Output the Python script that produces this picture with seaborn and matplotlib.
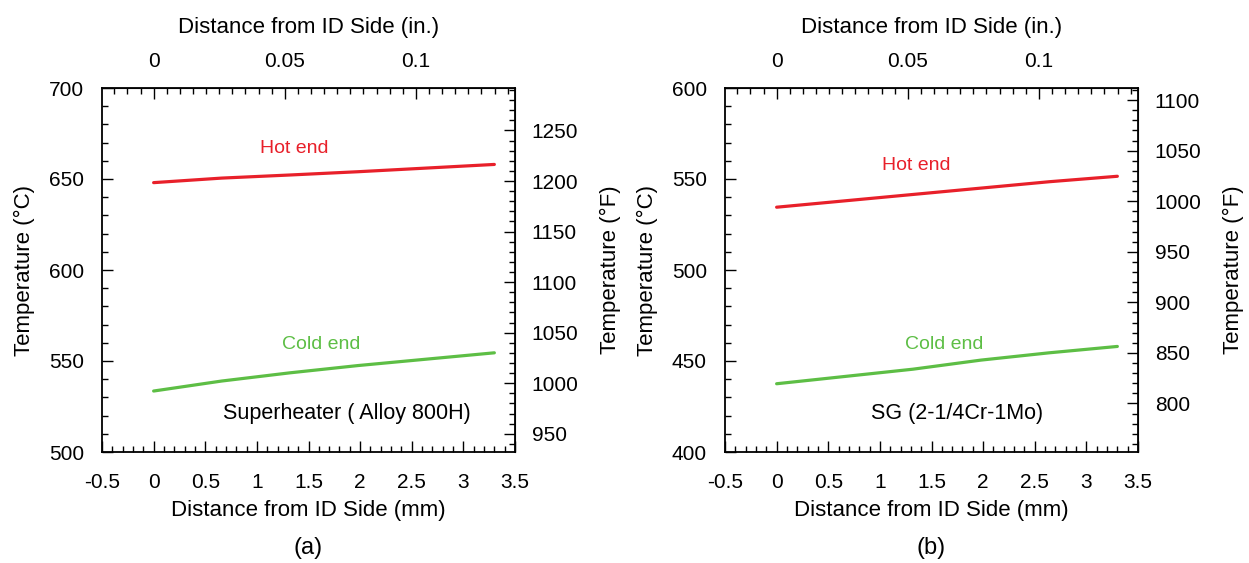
import numpy as np
import pandas as pd
import matplotlib
matplotlib.use("Agg")
import matplotlib.pyplot as plt
import seaborn as sns
from matplotlib.ticker import MultipleLocator, FixedLocator

# Data
distance_mm = [0.0, 0.66, 1.32, 1.98, 2.64, 3.3]

sh_hot = [648.0, 650.5, 652.2, 654.0, 656.0, 658.0]
sh_cold = [533.5, 539.0, 543.5, 547.5, 551.0, 554.5]

sg_hot = [534.5, 538.0, 541.5, 545.0, 548.5, 551.5]
sg_cold = [437.5, 441.5, 445.5, 450.5, 454.5, 458.0]

panel_titles = ["Superheater ( Alloy 800H)", "SG (2-1/4Cr-1Mo)"]
panel_tags = ["(a)", "(b)"]
c_limits = [(500, 700), (400, 600)]
in_ticks = [0, 0.05, 0.1]
in_ticklabels = ["0", "0.05", "0.1"]
mm_ticks = [-0.5, 0, 0.5, 1, 1.5, 2, 2.5, 3, 3.5]
mm_ticklabels = ["-0.5", "0", "0.5", "1", "1.5", "2", "2.5", "3", "3.5"]

# label positions (data coords)
hot_label_pos = [(1.36, 667), (1.35, 557.5)]
cold_label_pos = [(1.62, 559), (1.62, 459)]
title_pos = [(1.87, 521), (1.75, 421)]

HOT = "#e8202a"
COLD = "#5dbe45"

sns.set_style("ticks")
plt.rcParams["font.family"] = ["Liberation Sans", "DejaVu Sans"]
plt.rcParams.update({"text.color": "black", "axes.labelcolor": "black",
                     "xtick.color": "black", "ytick.color": "black"})
TICK_FS = 15
LABEL_FS = 16

fig = plt.figure(figsize=(12.49, 5.63), dpi=100)
W, H = 1249, 563
boxes = [(102, 88, 515, 452), (725, 88, 1138, 452)]

frames = [
    pd.DataFrame({"mm": distance_mm, "hot": sh_hot, "cold": sh_cold}),
    pd.DataFrame({"mm": distance_mm, "hot": sg_hot, "cold": sg_cold}),
]

for i, df in enumerate(frames):
    x0, y0, x1, y1 = boxes[i]
    ax = fig.add_axes([x0 / W, 1 - y1 / H, (x1 - x0) / W, (y1 - y0) / H])

    sns.lineplot(data=df, x="mm", y="hot", ax=ax, color=HOT, lw=2.3)
    sns.lineplot(data=df, x="mm", y="cold", ax=ax, color=COLD, lw=2.3)

    ax.set_xlim(-0.5, 3.5)
    ax.set_ylim(*c_limits[i])
    ax.xaxis.set_major_locator(FixedLocator(mm_ticks))
    ax.set_xticklabels(mm_ticklabels)
    ax.xaxis.set_minor_locator(MultipleLocator(0.1))
    ax.yaxis.set_major_locator(MultipleLocator(50))
    ax.yaxis.set_minor_locator(MultipleLocator(10))
    ax.tick_params(which="both", direction="in", top=False, right=False,
                   labelsize=TICK_FS, width=1, color="black")
    ax.tick_params(axis="x", pad=15)
    ax.tick_params(axis="y", pad=13)
    ax.tick_params(which="major", length=8)
    ax.tick_params(which="minor", length=4)
    for s in ax.spines.values():
        s.set_linewidth(1.3)
        s.set_color("black")

    ax.set_xlabel("Distance from ID Side (mm)", fontsize=LABEL_FS, labelpad=6)
    ax.set_ylabel("Temperature (°C)", fontsize=LABEL_FS, labelpad=10)

    # top axis in inches
    top = ax.secondary_xaxis("top", functions=(lambda x: x / 25.4, lambda x: x * 25.4))
    top.xaxis.set_major_locator(FixedLocator(in_ticks))
    top.set_xticklabels(in_ticklabels)
    top.xaxis.set_minor_locator(MultipleLocator(0.005))
    top.tick_params(which="both", direction="in", labelsize=TICK_FS, width=1, pad=12)
    top.tick_params(which="major", length=8)
    top.tick_params(which="minor", length=4)
    top.set_xlabel("Distance from ID Side (in.)", fontsize=LABEL_FS, labelpad=14)

    # right axis in Fahrenheit
    right = ax.secondary_yaxis("right", functions=(lambda c: c * 9 / 5 + 32,
                                                   lambda f: (f - 32) * 5 / 9))
    right.yaxis.set_major_locator(MultipleLocator(50))
    right.yaxis.set_minor_locator(MultipleLocator(10))
    right.tick_params(which="both", direction="in", labelsize=TICK_FS, width=1, pad=12)
    right.tick_params(which="major", length=8)
    right.tick_params(which="minor", length=4)
    right.set_ylabel("Temperature (°F)", fontsize=LABEL_FS, labelpad=15)

    ax.text(*hot_label_pos[i], "Hot end", color=HOT, fontsize=14,
            ha="center", va="center")
    ax.text(*cold_label_pos[i], "Cold end", color=COLD, fontsize=14,
            ha="center", va="center")
    ax.text(*title_pos[i], panel_titles[i], color="black", fontsize=15.5,
            ha="center", va="center")

    fig.text((x0 + x1) / 2 / W, 1 - 548 / H, panel_tags[i], fontsize=17,
             ha="center", va="center")

fig.savefig("out.png", dpi=100)
